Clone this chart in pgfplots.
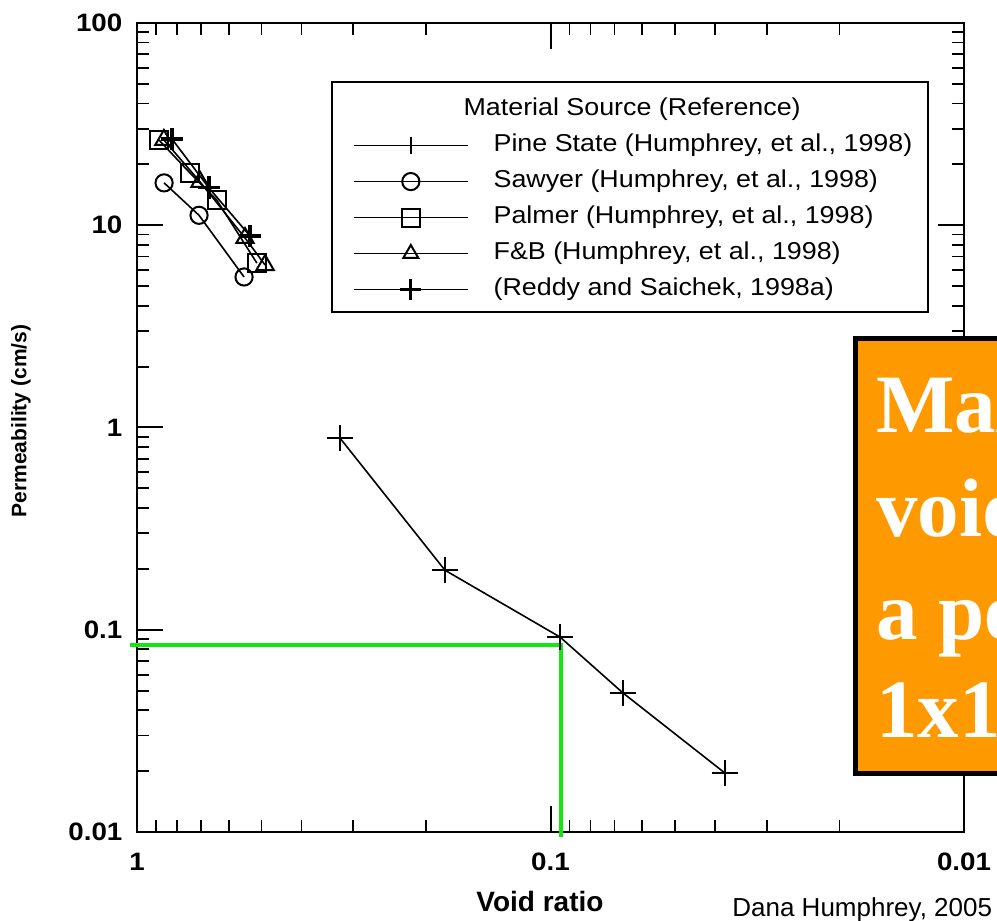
\documentclass[border=0pt]{standalone}
\usepackage{fontspec}
\setmainfont{Liberation Sans}
\newfontfamily\figfont[FakeStretch=1.1]{Liberation Sans}
\newfontfamily\ovfont{Liberation Serif}
\usepackage{pgfplots}
\pgfplotsset{compat=1.18}
\definecolor{ovorange}{RGB}{255,153,0}
\definecolor{grn}{RGB}{20,230,20}
\begin{document}
\begin{tikzpicture}[x=1pt,y=1pt]
\useasboundingbox (0,0) rectangle (498.5,460.5);
\clip (0,0) rectangle (498.5,460.5);
\begin{axis}[
  at={(68.5pt,44.5pt)}, anchor=south west,
  width=413.5pt, height=404.5pt, scale only axis,
  xmode=log, ymode=log, x dir=reverse,
  xmin=0.01, xmax=1, ymin=0.01, ymax=100,
  xtick={0.01,0.1,1}, xticklabels={0.01,0.1,1},
  ytick={0.01,0.1,1,10,100}, yticklabels={0.01,0.1,1,10,100},
  minor xtick={0.02,0.03,0.04,0.05,0.06,0.07,0.08,0.09,0.2,0.3,0.4,0.5,0.6,0.7,0.8,0.9},
  minor ytick={0.02,0.03,0.04,0.05,0.06,0.07,0.08,0.09,0.2,0.3,0.4,0.5,0.6,0.7,0.8,0.9,2,3,4,5,6,7,8,9,20,30,40,50,60,70,80,90},
  tick align=inside,
  major tick length=13pt, minor tick length=6pt,
  every major tick/.append style={black, line width=1pt},
  every minor tick/.append style={black, line width=0.9pt},
  axis line style={line width=1.2pt},
  tick label style={font=\figfont\bfseries\fontsize{12.6}{14}\selectfont},
  xticklabel style={yshift=-6.8pt},
  yticklabel style={xshift=-3.8pt},
  clip=false,
  every axis plot/.append style={black, line width=0.8pt},
  legend style={at={(0.2612,0.9078)}, anchor=north west, draw=none, fill=none,
    inner sep=0pt, outer sep=0pt, row sep=6pt, column sep=12.5pt,
    font=\figfont\fontsize{12.2}{14}\selectfont,
    nodes={inner sep=0pt, text height=9pt, text depth=3pt}},
  legend cell align=left,
  legend image code/.code={\draw[mark repeat=2,mark phase=2,#1] plot coordinates {(0pt,0pt) (28.5pt,0pt) (57pt,0pt)};},
]
\draw[line width=0.9pt] (rel axis cs:0.2358,0.9271) rectangle (rel axis cs:0.9565,0.6428);
\addlegendimage{empty legend}
\addlegendentry{\hspace*{-15pt}Material Source (Reference)}

\addplot[mark=+, mark size=6.5pt, mark options={line width=0.8pt}, legend image post style={mark size=4.3pt}]
  coordinates {(0.323,0.887) (0.180,0.197) (0.0948,0.092) (0.0668,0.0487) (0.0379,0.0196)};
\addlegendentry{Pine State (Humphrey, et al., 1998)}

\addplot[mark=o, mark size=4.3pt, mark options={line width=1pt}]
  coordinates {(0.860,16.2) (0.708,11.2) (0.551,5.55)};
\addlegendentry{Sawyer (Humphrey, et al., 1998)}

\addplot[mark=square, mark size=4.5pt, mark options={line width=1pt}]
  coordinates {(0.885,26.4) (0.744,18.1) (0.641,13.3) (0.513,6.50)};
\addlegendentry{Palmer (Humphrey, et al., 1998)}

\addplot[mark=triangle, mark size=5pt, mark options={line width=1pt}, legend image post style={mark size=4.3pt}]
  coordinates {(0.861,26.4) (0.704,16.4) (0.548,8.65) (0.490,6.36)};
\addlegendentry{F\&B (Humphrey, et al., 1998)}

\addplot[mark=+, mark size=5.7pt, mark options={line width=1.6pt}, legend image post style={mark size=5.2pt}]
  coordinates {(0.823,26.7) (0.670,15.3) (0.533,8.85)};
\addlegendentry{(Reddy and Saichek, 1998a)}

\addplot[grn, line width=2.2pt, mark=none, forget plot]
  coordinates {(1.04,0.084) (0.0943,0.084) (0.0943,0.00945)};
\end{axis}

\node[anchor=base, inner sep=0pt, font=\bfseries\fontsize{14}{16}\selectfont] at (270,4.5) {Void ratio};
\node[rotate=90, inner sep=0pt, font=\bfseries\fontsize{10.5}{12}\selectfont] at (10.5,250) {Permeability (cm/s)};
\node[anchor=base west, inner sep=0pt, font=\fontsize{13}{15}\selectfont] at (366,2) {Dana Humphrey, 2005};

\filldraw[fill=ovorange, draw=black, line width=2.5pt] (427.5,73.5) rectangle (560,291.25);
\begin{scope}[every node/.style={anchor=base west, inner sep=0pt, text=white, font=\ovfont\bfseries\fontsize{41.5}{50}\selectfont}]
\node at (438,244) {Max.};
\node at (438,192) {void ratio for};
\node at (438,140.5) {a permeability of};
\node at (438,91.5) {1x10\textsuperscript{-1} cm/s};
\end{scope}
\end{tikzpicture}
\end{document}
